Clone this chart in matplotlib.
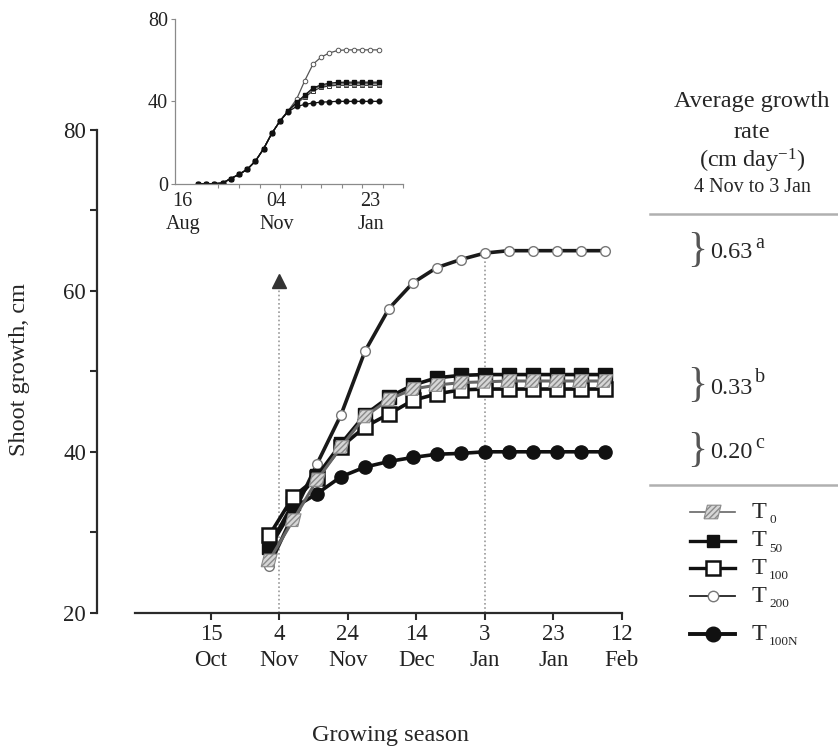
import numpy as np
import matplotlib.pyplot as plt
from matplotlib.path import Path

plt.rcParams['font.family'] = ['Liberation Serif', 'DejaVu Serif']
plt.rcParams['mathtext.fontset'] = 'custom'
plt.rcParams['mathtext.rm'] = 'Liberation Serif'
plt.rcParams['mathtext.it'] = 'Liberation Serif:italic'
plt.rcParams['text.color'] = '#262626'

# ---- main chart: days after 15 Oct, weekly readings ----
days = np.arange(17, 116, 7)
t0 = [26.5, 31.5, 36.5, 40.6, 44.4, 46.5, 47.8, 48.3, 48.6, 48.7, 48.8, 48.8, 48.8, 48.8, 48.8]
t50 = [28.2, 33.6, 37.0, 41.0, 44.6, 46.8, 48.3, 49.2, 49.5, 49.6, 49.6, 49.6, 49.6, 49.6, 49.6]
t100 = [29.6, 34.4, 36.8, 40.6, 43.1, 44.7, 46.4, 47.2, 47.7, 47.8, 47.8, 47.8, 47.8, 47.8, 47.8]
t200 = [25.8, 32.2, 38.5, 44.6, 52.5, 57.8, 61.0, 62.9, 63.9, 64.7, 65.0, 65.0, 65.0, 65.0, 65.0]
t100n = [28.0, 33.0, 34.8, 36.9, 38.1, 38.8, 39.3, 39.7, 39.8, 40.0, 40.0, 40.0, 40.0, 40.0, 40.0]

xtick_days = [0, 20, 40, 60, 80, 100, 120]
xtick_labels = ['15\nOct', '4\nNov', '24\nNov', '14\nDec', '3\nJan', '23\nJan', '12\nFeb']
nov4, jan3 = 20, 80

# ---- inset: days after 16 Aug, weekly readings ----
in_days = np.arange(13, 168, 7)
in_t0 = [0, 0, 0, 0.3, 2.5, 4.5, 7.0, 11.0, 17.0, 24.5, 30.5, 35.5,
         39.3, 42.5, 46.0, 47.5, 48.2, 48.5, 48.6, 48.6, 48.6, 48.6, 48.6]
in_t50 = [0, 0, 0, 0.3, 2.5, 4.5, 7.0, 11.0, 17.0, 24.5, 30.5, 35.5,
          39.5, 43.0, 46.5, 48.0, 48.8, 49.2, 49.3, 49.3, 49.3, 49.3, 49.3]
in_t100 = [0, 0, 0, 0.3, 2.5, 4.5, 7.0, 11.0, 17.0, 24.5, 30.5, 35.5,
           39.0, 42.0, 45.0, 46.8, 47.5, 47.8, 47.8, 47.8, 47.8, 47.8, 47.8]
in_t200 = [0, 0, 0, 0.3, 2.5, 4.5, 7.0, 11.0, 17.0, 24.5, 30.5, 35.5,
           41.0, 50.0, 58.0, 61.5, 63.5, 64.7, 65.0, 65.0, 65.0, 65.0, 65.0]
in_t100n = [0, 0, 0, 0.3, 2.5, 4.5, 7.0, 11.0, 17.0, 24.5, 30.5, 35.0,
            37.5, 38.5, 39.2, 39.6, 39.8, 40.0, 40.0, 40.0, 40.0, 40.0, 40.0]
in_tick_days = [0, 80, 160]
in_tick_labels = ['16\nAug', '04\nNov', '23\nJan']

rates = ['0.63', '0.33', '0.20']
rate_letters = ['a', 'b', 'c']
legend_subs = ['0', '50', '100', '200', '100N']

W, H = 838, 751
dark = '#2b2b2b'
para = Path([(-1, -0.8), (0.6, -0.8), (1, 0.8), (-0.6, 0.8), (-1, -0.8)])

fig = plt.figure(figsize=(W / 100, H / 100), dpi=100)

# overlay in pixel coordinates for free text
ov = fig.add_axes([0, 0, 1, 1])
ov.set_xlim(0, W)
ov.set_ylim(H, 0)
ov.axis('off')

# ---- main axes ----
ax = fig.add_axes([97.3 / W, (H - 612.7) / H, (621.7 - 97.3) / W, (612.7 - 130) / H])
ax.set_xlim(-33.2, 120)
ax.set_ylim(20, 80)
for s in ['top', 'right']:
    ax.spines[s].set_visible(False)
for s in ['left', 'bottom']:
    ax.spines[s].set_linewidth(1.6)
    ax.spines[s].set_color(dark)
ax.spines['bottom'].set_bounds(-22.2, 120)
ax.spines['left'].set_bounds(20, 80)
ax.set_yticks([20, 40, 60, 80])
ax.set_yticks([30, 50, 70], minor=True)
ax.set_xticks(xtick_days)
ax.set_xticklabels(xtick_labels, linespacing=1.3)
ax.tick_params(which='both', direction='out', length=5, width=1.5, color=dark,
               labelsize=16.5, labelcolor='#222222', pad=3)
ax.patch.set_alpha(0)

ax.plot([nov4, nov4], [20, 60.5], ls=(0, (1, 1.5)), color='#9a9a9a', lw=1.2, zorder=1)
ax.plot([nov4], [61.2], marker='^', ms=10, color='#333333', zorder=1)
ax.plot([jan3, jan3], [20, 64.8], ls=(0, (1, 1.5)), color='#9a9a9a', lw=1.2, zorder=1)

ax.plot(days, t200, color='#1a1a1a', lw=2.6, marker='o', ms=7, mfc='white',
        mec='#777777', mew=1, zorder=3)
ax.plot(days, t100n, color='#111111', lw=2.6, marker='o', ms=9.5, mfc='#111111',
        mec='#111111', zorder=4)
ax.plot(days, t50, color='#111111', lw=2.6, marker='s', ms=9.5, mfc='#111111',
        mec='#111111', zorder=5)
ax.plot(days, t100, color='#111111', lw=2.6, marker='s', ms=10, mfc='white',
        mec='#111111', mew=1.8, zorder=6)
ax.plot(days, t0, color='#666666', lw=2.2, zorder=7)
ax.scatter(days, t0, marker=para, s=130, facecolor='#d6d6d6', edgecolor='#8a8a8a',
           hatch='//////', linewidth=0.8, zorder=8)

# ---- inset axes ----
axi = fig.add_axes([175 / W, (H - 183.7) / H, (403.3 - 175) / W, (183.7 - 19) / H])
axi.set_xlim(-6.55, 187.7)
axi.set_ylim(0, 80)
for s in ['top', 'right']:
    axi.spines[s].set_visible(False)
for s in ['left', 'bottom']:
    axi.spines[s].set_linewidth(0.9)
    axi.spines[s].set_color('#8a8a8a')
axi.set_yticks([0, 40, 80])
axi.set_xticks(in_tick_days)
axi.set_xticklabels(in_tick_labels, linespacing=1.25)
axi.set_xticks([30.5, 48, 65.5, 83, 100.5, 118, 135.5, 153, 170.5, 188], minor=True)
axi.tick_params(axis='y', direction='out', length=3, width=0.8, color='#8a8a8a',
                labelsize=14.5, labelcolor='#222222', pad=2)
axi.tick_params(axis='x', which='major', length=0, labelsize=14.5,
                labelcolor='#222222', pad=6)
axi.tick_params(axis='x', which='minor', direction='out', length=3, width=0.8,
                color='#8a8a8a')
axi.patch.set_alpha(0)

axi.plot(in_days, in_t200, color='#555555', lw=0.9, marker='o', ms=3.3,
         mfc='white', mec='#555555', mew=0.7)
axi.plot(in_days, in_t100, color='#333333', lw=0.9, marker='s', ms=3.2,
         mfc='white', mec='#333333', mew=0.7)
axi.plot(in_days, in_t0, color='#666666', lw=0.9, marker='s', ms=3.2,
         mfc='#aaaaaa', mec='#666666', mew=0.5)
axi.plot(in_days, in_t50, color='#111111', lw=0.9, marker='s', ms=3.2,
         mfc='#111111', mec='#111111')
axi.plot(in_days, in_t100n, color='#111111', lw=0.9, marker='o', ms=3.3,
         mfc='#111111', mec='#111111')

# ---- axis titles ----
ov.text(20, 370, 'Shoot growth, cm', rotation=90, ha='center', va='center', fontsize=17.5)
ov.text(390, 735, 'Growing season', ha='center', va='center', fontsize=17.5)

# ---- right-hand block ----
ov.text(752, 102, 'Average growth', ha='center', va='center', fontsize=17.5)
ov.text(752, 133, 'rate', ha='center', va='center', fontsize=17.5)
ov.text(752, 161, r'(cm day$^{\mathrm{-1}}$)', ha='center', va='center', fontsize=17.5)
ov.text(752, 188, '4 Nov to 3 Jan', ha='center', va='center', fontsize=14.5)
ov.plot([650, W], [214, 214], color='#b0b0b0', lw=1.8)
ov.plot([650, W], [485, 485], color='#b0b0b0', lw=1.8)

for yy, r, l in zip([250, 385, 450], rates, rate_letters):
    ov.text(697, yy + 1, '}', ha='center', va='center', fontsize=30, color='#555555')
    ov.text(710, yy + 3, r, ha='left', va='center', fontsize=17.5)
    ov.text(755, yy - 7, l, ha='left', va='center', fontsize=14.5)

# ---- legend ----
rows = [512, 541, 568, 596, 634]
lines = [
    dict(color='#666666', lw=1.2),
    dict(color='#111111', lw=2.4),
    dict(color='#111111', lw=2.4),
    dict(color='#222222', lw=1.3),
    dict(color='#111111', lw=2.8),
]
marks = [
    None,
    dict(marker='s', ms=9, mfc='#111111', mec='#111111'),
    dict(marker='s', ms=10, mfc='white', mec='#111111', mew=1.8),
    dict(marker='o', ms=7.5, mfc='white', mec='#777777', mew=1),
    dict(marker='o', ms=10.5, mfc='#111111', mec='#111111'),
]
for yy, sub, ln, mk in zip(rows, legend_subs, lines, marks):
    ov.plot([690, 735], [yy, yy], **ln)
    if mk is not None:
        ov.plot([712.5], [yy], ls='none', **mk)
    ov.text(752, yy, 'T', ha='left', va='center', fontsize=17.5)
    ov.text(769, yy + 8, sub, ha='left', va='center', fontsize=9.5)
ov.scatter([712.5], [rows[0]], marker=para, s=150, facecolor='#d6d6d6',
           edgecolor='#8a8a8a', hatch='//////', linewidth=0.8, zorder=5)

fig.savefig('out.png', dpi=100)
